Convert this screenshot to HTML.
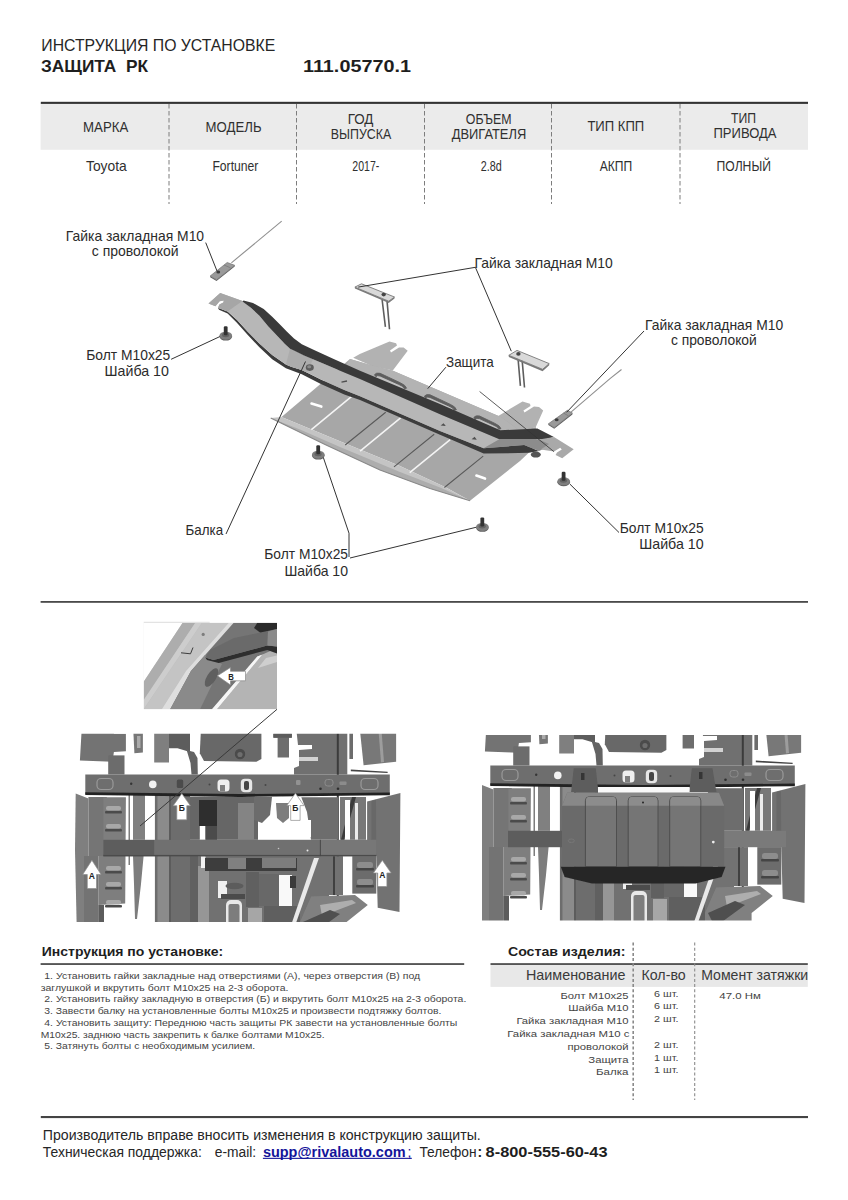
<!DOCTYPE html>
<html lang="ru">
<head>
<meta charset="utf-8">
<title>Инструкция по установке — Защита РК 111.05770.1</title>
<style>
html,body{margin:0;padding:0;background:#fff;}
body{width:848px;height:1200px;overflow:hidden;position:relative;font-family:"Liberation Sans",sans-serif;}
svg{position:absolute;left:0;top:0;display:block;}
text{font-family:"Liberation Sans",sans-serif;}
.b{font-weight:bold;}
.m{text-anchor:middle;}
.e{text-anchor:end;}
.h{font-size:13.5px;fill:#333;}
.lbl{font-size:14.5px;fill:#2b2b2b;}
.ld{stroke:#333;stroke-width:1;fill:none;}
.dash{stroke:#666;stroke-width:1;stroke-dasharray:4 3;fill:none;}
</style>
</head>
<body>
<svg width="848" height="1200" viewBox="0 0 848 1200" fill="#2a2a2a">
<!--HEADER_START-->
<g id="header">
<text x="41.3" y="51" font-size="16.2" fill="#262626" textLength="234" lengthAdjust="spacingAndGlyphs">ИНСТРУКЦИЯ ПО УСТАНОВКЕ</text>
<text x="41" y="71.5" font-size="16.2" class="b" fill="#1e1e1e" textLength="107" lengthAdjust="spacingAndGlyphs" xml:space="preserve">ЗАЩИТА  РК</text>
<text x="303" y="71.5" font-size="16.2" class="b" fill="#1e1e1e" textLength="108" lengthAdjust="spacingAndGlyphs">111.05770.1</text>
</g>
<g id="table">
<rect x="40.6" y="103" width="767.4" height="46.8" fill="#ebebeb"/>
<rect x="40.8" y="101.8" width="767.2" height="2.1" fill="#333"/>
<path d="M169 104V204M296.5 104V204M424.5 104V204M551.5 104V204M680 104V204" stroke="#7d7d7d" stroke-width="1" stroke-dasharray="4.5 2.5" fill="none"/>
<g font-size="14.5" fill="#303030">
<text x="83" y="131.5" textLength="45.3" lengthAdjust="spacingAndGlyphs">МАРКА</text>
<text x="205.6" y="131.5" textLength="56" lengthAdjust="spacingAndGlyphs">МОДЕЛЬ</text>
<text x="347.7" y="123.6" textLength="25.7" lengthAdjust="spacingAndGlyphs">ГОД</text>
<text x="330.8" y="138.8" textLength="60.4" lengthAdjust="spacingAndGlyphs">ВЫПУСКА</text>
<text x="465.8" y="123.6" textLength="45.7" lengthAdjust="spacingAndGlyphs">ОБЪЕМ</text>
<text x="451.7" y="138.8" textLength="74.5" lengthAdjust="spacingAndGlyphs">ДВИГАТЕЛЯ</text>
<text x="587.4" y="131.2" textLength="56.8" lengthAdjust="spacingAndGlyphs">ТИП КПП</text>
<text x="731" y="123.2" textLength="25" lengthAdjust="spacingAndGlyphs">ТИП</text>
<text x="713.5" y="138.4" textLength="63" lengthAdjust="spacingAndGlyphs">ПРИВОДА</text>
<text x="86" y="171" textLength="40.8" lengthAdjust="spacingAndGlyphs">Toyota</text>
<text x="212.4" y="171" textLength="46" lengthAdjust="spacingAndGlyphs">Fortuner</text>
<text x="352.3" y="171" textLength="27" lengthAdjust="spacingAndGlyphs">2017-</text>
<text x="480.8" y="171" textLength="21" lengthAdjust="spacingAndGlyphs">2.8d</text>
<text x="599.7" y="171" textLength="32.5" lengthAdjust="spacingAndGlyphs">АКПП</text>
<text x="716.6" y="171" textLength="54.3" lengthAdjust="spacingAndGlyphs">ПОЛНЫЙ</text>
</g>
</g>
<!--HEADER_END-->
<!--DIAGRAM_START-->
<g id="diagram">
<!-- protection plate -->
<g id="plate">
<!-- tabs -->
<path d="M353.2 357.8 L359.8 354 L389.5 341.6 L396.1 343.3 L397 345.5 L390 350.5 L391 352.6 L399 347.6 L403.6 347.4 L407.7 350.7 L392.8 370.5 L372 366Z" fill="#b2b2b2"/>
<path d="M497.8 416.2 L522.5 401.4 L530 403.8 L530.5 406 L523.4 410.6 L524.5 412.4 L534 406.6 L539 407.1 L543.2 410.4 L535.8 427 L520 432Z" fill="#b2b2b2"/>
<!-- main body incl. band above beam -->
<path d="M350 359 L372 365.5 L393 370.8 L501.5 417.2 L520 431 L535.8 427 L537 446 L529 452.5 L520 461 L470 500.7 L446 487.5 L400 465.9 L340 441.2 L281.5 417.1Z" fill="#a7a7a7"/>
<path d="M350 359 L372 365.5 L393 370.8 L501.5 417.2 L520 431 L510 436 L346 366Z" fill="#b3b3b3"/>
<!-- front lip -->
<path d="M270.7 418 L281.5 417.1 L340 441.2 L400 465.9 L446 487.5 L470 500.7 L430 488.5 L380 470 L325 444.5Z" fill="#c4c4c4"/>
<path d="M270.7 418 L300 429.5 L340 447 L400 472 L440 487.5 L470 500.7 L430 488.5 L380 470 L325 444.5Z" fill="#adadad"/>
<path d="M270.7 418 L325 444.5 L380 470 L430 488.5 L470 500.7" stroke="#8a8a8a" stroke-width="1.2" fill="none"/>
<!-- ribs -->
<path d="M351.4 396.6 L311.4 429.6 M400.6 417.8 L360.1 451.2 M450.2 439.6 L409.7 472.6" stroke="#f4f4f4" stroke-width="1.6" fill="none"/>
<path d="M385.7 412.3 L345.2 445 M434.2 434.3 L394 466.9 M483.2 456.1 L444.4 487.5" stroke="#5a5a5a" stroke-width="1.1" fill="none"/>
<!-- holes -->
<path d="M311.5 403.6 L321.3 406.6" stroke="#fff" stroke-width="2.6" stroke-linecap="round"/>
<path d="M476.4 475.6 L485 478.6" stroke="#fff" stroke-width="2.6" stroke-linecap="round"/>
<!-- rib ends above beam -->
<path d="M375.5 375.3 L405.5 387.2 L405.5 391.2 L375.5 379.3Z" fill="#c2c2c2"/>
<path d="M374.5 374.7 Q376.1 372.4 380.1 373.3 L400.5 382.9 Q405.7 385.2 406.5 388.2 L404.3 388.7 Q403.3 386.0 398.5 384.3 L380.1 375.9 Q377.1 375.0 375.9 376.7Z" fill="#5e5e5e" stroke="#5e5e5e" stroke-width=".9"/>
<path d="M425.4 396.8 L455.4 408.7 L455.4 412.7 L425.4 400.8Z" fill="#c2c2c2"/>
<path d="M424.4 396.2 Q426.0 393.9 430.0 394.8 L450.4 404.4 Q455.6 406.7 456.4 409.7 L454.2 410.2 Q453.2 407.5 448.4 405.8 L430.0 397.4 Q427.0 396.5 425.8 398.2Z" fill="#5e5e5e" stroke="#5e5e5e" stroke-width=".9"/>
<path d="M474.9 418.0 L499.9 427.7 L499.9 431.7 L474.9 422.0Z" fill="#c2c2c2"/>
<path d="M473.9 417.4 Q475.5 415.1 479.5 416.0 L494.9 423.4 Q500.1 425.7 500.9 428.7 L498.7 429.2 Q497.7 426.5 492.9 424.8 L479.5 418.6 Q476.5 417.7 475.3 419.4Z" fill="#5e5e5e" stroke="#5e5e5e" stroke-width=".9"/>
</g>
<!-- beam -->
<g id="beam">
<ellipse cx="535.8" cy="454.6" rx="5" ry="3" fill="#555"/>
<path d="M218.0 307.8 L227.6 311.5 L237.1 320.0 L247.8 331.7 L259.4 343.4 L272.2 355.0 L285.9 364.6 L291.2 366.7 L301.8 369.9 L320.9 379.4 L344.3 390.1 L360.0 396.3 L440.0 431.0 L483.7 448.2 L524.2 445.1 L539.0 451.0 L529.0 452.8 L483.7 453.6 L440.0 434.8 L360.0 400.0 L344.3 394.5 L320.9 383.9 L301.8 374.3 L285.9 368.2 L272.2 359.3 L259.4 347.3 L247.8 335.1 L237.1 322.9 L227.6 313.4 L219.0 309.8Z" fill="#3c3c3c"/>
<path d="M208.5 303.6 L220.2 293.0 L242.5 300.9 L250.9 307.8 L259.4 315.8 L267.9 325.9 L276.4 334.9 L284.9 343.9 L290.0 348.7 L294.4 350.8 L304.0 355.6 L323.1 363.5 L344.3 372.6 L360.0 379.0 L440.0 414.3 L499.4 439.2 L483.7 448.2 L440.0 431.0 L360.0 396.3 L344.3 390.1 L320.9 379.4 L301.8 369.9 L291.2 366.7 L285.9 364.6 L272.2 355.0 L259.4 343.4 L247.8 331.7 L237.1 320.0 L227.6 311.5 L218.0 307.8 L219.4 304.6 L223.3 302.5 L223.9 300.4 L219.6 301.2 L215.4 306.2Z" fill="#b7b7b7"/>
<path d="M208.5 303.6 L220.2 293.0 L242.5 300.9 L236.0 305.5 L227.6 311.5 L218.0 307.8 L219.4 304.6 L223.3 302.5 L223.9 300.4 L219.6 301.2 L215.4 306.2Z" fill="#a6a6a6"/>
<path d="M290 348.7 L294.4 350.8 L304 355.6 L313 359.3 L307 372.5 L301.8 369.9 L291.2 366.7 L285.9 364.6Z" fill="#acacac"/>
<path d="M243.5 300.4 L253.0 303.0 L263.7 308.9 L272.2 316.8 L280.7 325.3 L287.0 331.7 L294.0 338.5 L301.8 344.2 L314.6 350.3 L333.7 359.0 L360.0 370.8 L440.0 404.0 L500.3 430.3 L537.4 428.6 L553.9 436.9 L545.7 439.2 L499.4 439.2 L440.0 414.3 L360.0 379.0 L344.3 372.6 L323.1 363.5 L304.0 355.6 L294.4 350.8 L290.0 348.7 L284.9 343.9 L276.4 334.9 L267.9 325.9 L259.4 315.8 L250.9 307.8 L242.5 301.6Z" fill="#3a3a3a"/>
<path d="M499.4 439.2 L545.7 439.2 L556 443.5 L539 451 L524.2 445.1 L483.7 448.2Z" fill="#8c8c8c"/>
<path d="M539 439.4 L554 436.9 L573.7 449.2 L562.2 458.3 L555.6 455 L557 452.6 L561.8 449.6 L560.2 447.8 L554 451.6 L540.7 449.6 L549 444Z" fill="#a9a9a9"/>
<ellipse cx="309.8" cy="367.6" rx="4" ry="3.3" fill="#5d5d5d"/><ellipse cx="309.2" cy="366.8" rx="2" ry="1.5" fill="#8a8a8a"/>
<path d="M341.5 382.2 l5.5 -1.2" stroke="#505050" stroke-width="1.3" fill="none"/>
<path d="M440.6 425.6 l3 -2.4 l2.2 2.9Z M471.6 439.2 l3 -2.4 l2.2 2.9Z" fill="#4e4e4e"/>
</g>

<!-- defs-like reusable bolt drawn inline -->
<g id="bolts">
<g transform="translate(225.8,335.4)"><ellipse cx="0" cy="1.2" rx="6.3" ry="4" fill="#5e5e5e"/><ellipse cx="0" cy="0.3" rx="6.3" ry="4" fill="#7e7e7e"/><ellipse cx="-0.2" cy="-0.4" rx="3.6" ry="2.2" fill="#636363"/><rect x="-2" y="-9.2" width="3.8" height="9" rx="1.2" fill="#333"/></g>
<g transform="translate(318.3,454.4)"><ellipse cx="0" cy="1.2" rx="6.3" ry="4" fill="#5e5e5e"/><ellipse cx="0" cy="0.3" rx="6.3" ry="4" fill="#7e7e7e"/><ellipse cx="-0.2" cy="-0.4" rx="3.6" ry="2.2" fill="#636363"/><rect x="-2" y="-9.2" width="3.8" height="9" rx="1.2" fill="#333"/></g>
<g transform="translate(482.4,526.6)"><ellipse cx="0" cy="1.2" rx="6.3" ry="4" fill="#5e5e5e"/><ellipse cx="0" cy="0.3" rx="6.3" ry="4" fill="#7e7e7e"/><ellipse cx="-0.2" cy="-0.4" rx="3.6" ry="2.2" fill="#636363"/><rect x="-2" y="-9.2" width="3.8" height="9" rx="1.2" fill="#333"/></g>
<g transform="translate(563.7,481.0)"><ellipse cx="0" cy="1.2" rx="6.3" ry="4" fill="#5e5e5e"/><ellipse cx="0" cy="0.3" rx="6.3" ry="4" fill="#7e7e7e"/><ellipse cx="-0.2" cy="-0.4" rx="3.6" ry="2.2" fill="#636363"/><rect x="-2" y="-9.2" width="3.8" height="9" rx="1.2" fill="#333"/></g>
</g>
<!-- nuts -->
<g id="nuts">
<!-- left nut with wire -->
<path d="M281.7 221.2 L231.4 262.8" stroke="#8f8f8f" stroke-width="1.1"/>
<path d="M210.2 277.2 L216.5 280.9 L234.7 266.5 L234.7 265.3 L216.5 279.7 L210.2 276Z" fill="#5f5f5f"/>
<path d="M210.2 276 L227.2 262.5 L234.7 265.3 L216.5 279.7Z" fill="#9a9a9a" stroke="#727272" stroke-width=".7"/>
<path d="M224 265 L230.5 267.8" stroke="#7a7a7a" stroke-width=".8"/>
<ellipse cx="218.3" cy="272" rx="1.9" ry="1.5" fill="#3c3c3c"/>
<!-- center-left nut -->
<path d="M382.1 299.5 L385.4 326.8 M387 300.4 L389.5 329.2" stroke="#5e5e5e" stroke-width="1.6" fill="none"/>
<path d="M354.9 287.1 L388.7 301.2 L394.5 297 L394.5 298.6 L388.7 303 L354.9 288.6Z" fill="#7a7a7a"/>
<path d="M354.9 287.1 L361.5 283.8 L394.5 297 L388.7 301.2Z" fill="#d9d9d9" stroke="#777" stroke-width=".9"/>
<ellipse cx="383.7" cy="294.6" rx="2.2" ry="1.8" fill="#454545"/>
<!-- center-right nut -->
<path d="M517.9 357 L520.4 385.9 M522 358.6 L524.5 387.5" stroke="#5e5e5e" stroke-width="1.6" fill="none"/>
<path d="M508.8 355.3 L542.6 369.3 L549.2 363.6 L549.2 365.2 L542.6 371.2 L508.8 356.9Z" fill="#7a7a7a"/>
<path d="M508.8 355.3 L517 350.4 L549.2 363.6 L542.6 369.3Z" fill="#d9d9d9" stroke="#777" stroke-width=".9"/>
<ellipse cx="518.4" cy="353.9" rx="2.2" ry="1.8" fill="#454545"/>
<!-- right nut with wire -->
<path d="M570.7 412.3 L610 378.6 L621.5 369.5" stroke="#8f8f8f" stroke-width="1.1" fill="none"/>
<path d="M548.4 425 L554.2 428.8 L572.4 414.4 L572.4 413.1 L554.2 427.5 L548.4 423.8Z" fill="#5f5f5f"/>
<path d="M548.4 423.8 L567.4 410.3 L572.4 413.1 L554.2 427.5Z" fill="#9a9a9a" stroke="#727272" stroke-width=".7"/>
<path d="M563.5 413 L568.6 416" stroke="#7a7a7a" stroke-width=".8"/>
<ellipse cx="556.7" cy="419.7" rx="1.9" ry="1.5" fill="#3c3c3c"/>
</g>
<!-- leaders -->
<g id="leaders" class="ld">
<path d="M205.7 242.6 L217 271"/>
<path d="M171.1 359.3 L219.8 336.6"/>
<path d="M475.4 267.3 L358.2 287.1"/>
<path d="M475.4 267.3 L511.3 351.2"/>
<path d="M445.9 367.2 L427.7 388.7"/>
<path d="M644 331 L566.6 412.3"/>
<path d="M479.6 391.5 L554 451.7" stroke-width=".8"/>
<path d="M305.5 361.5 L226 534"/>
<path d="M323.3 457.4 L349 533.2 L349 557"/>
<path d="M350 558 L476 527.3"/>
<path d="M569.8 484 L619 532.5"/>
</g>
<!-- labels -->
<g id="labels">
<text class="lbl" x="65.8" y="240.9" textLength="138.3" lengthAdjust="spacingAndGlyphs">Гайка закладная М10</text>
<text class="lbl" x="91.8" y="255.6" textLength="86.8" lengthAdjust="spacingAndGlyphs">с проволокой</text>
<text class="lbl" x="86.2" y="360.1" textLength="84.1" lengthAdjust="spacingAndGlyphs">Болт М10х25</text>
<text class="lbl" x="104.6" y="375.7" textLength="64.3" lengthAdjust="spacingAndGlyphs">Шайба 10</text>
<text class="lbl" x="474.5" y="267.9" textLength="138.3" lengthAdjust="spacingAndGlyphs">Гайка закладная М10</text>
<text class="lbl" x="645.1" y="330.3" textLength="138.1" lengthAdjust="spacingAndGlyphs">Гайка закладная М10</text>
<text class="lbl" x="670.9" y="344.9" textLength="85.9" lengthAdjust="spacingAndGlyphs">с проволокой</text>
<text class="lbl" x="446" y="367.2" textLength="47.7" lengthAdjust="spacingAndGlyphs">Защита</text>
<text class="lbl" x="185.6" y="534.6" textLength="37.5" lengthAdjust="spacingAndGlyphs">Балка</text>
<text class="lbl" x="264.3" y="559" textLength="83.7" lengthAdjust="spacingAndGlyphs">Болт М10х25</text>
<text class="lbl" x="284.4" y="575.6" textLength="63.6" lengthAdjust="spacingAndGlyphs">Шайба 10</text>
<text class="lbl" x="619.7" y="533" textLength="84" lengthAdjust="spacingAndGlyphs">Болт М10х25</text>
<text class="lbl" x="639.2" y="549.1" textLength="64.4" lengthAdjust="spacingAndGlyphs">Шайба 10</text>
</g>
</g>
<!--DIAGRAM_END-->
<!--LOWER_START-->
<g id="lower">
<defs><filter id="bl" x="-2%" y="-2%" width="104%" height="104%"><feGaussianBlur stdDeviation="0.55"/></filter><filter id="bd" x="-2%" y="-2%" width="104%" height="104%"><feGaussianBlur stdDeviation="0.55"/><feComponentTransfer><feFuncR type="gamma" exponent="1.16"/><feFuncG type="gamma" exponent="1.16"/><feFuncB type="gamma" exponent="1.16"/></feComponentTransfer></filter>
<clipPath id="cL"><rect x="74" y="733.8" width="328" height="188.2"/></clipPath>
<clipPath id="cR"><rect x="482" y="735" width="326" height="185.5"/></clipPath>
<clipPath id="cI"><rect x="143.7" y="622.7" width="133.3" height="86.6"/></clipPath>
<g id="under"><path d="M82.0 724.0 L113.9 724.0 L113.9 733.8 L125.9 733.8 L125.9 751.2 L113.9 752.0 L112.5 761.8 L79.9 760.4Z" fill="#828282"/>
<rect x="108.2" y="755.4" width="16.3" height="19.1" fill="#7a7a7a"/>
<path d="M133.0 724.0 L142.9 724.0 L142.9 752.6 L134.4 753.3Z" fill="#858585"/>
<rect x="137.0" y="736.0" width="3.5" height="12.0" fill="#b5b5b5"/>
<rect x="154.2" y="724.0" width="14.8" height="38.5" fill="#8c8c8c"/>
<path d="M169.0 724.0 L190.0 724.0 L190.0 751.9 L177.5 748.3 L169.0 748.3Z" fill="#6c6c6c"/>
<path d="M186.0 748.0 L190.0 751.0 L194.0 752.0 L197.5 758.0 L197.8 774.5 L191.5 774.5 L190.5 763.0Z" fill="#727272"/>
<path d="M201.2 724.0 L261.4 724.0 L261.4 759.0 L256.4 761.8 L204.0 761.0 L199.8 753.3Z" fill="#777777"/>
<circle cx="240" cy="754" r="5.2" fill="#5a5a5a"/><circle cx="240" cy="754.5" r="2.6" fill="#7d7d7d"/>
<path d="M273.4 724.0 L291.8 724.0 L291.8 737.7 L289.0 737.7 L289.0 757.5 L277.6 757.5 L277.6 737.7 L273.4 737.7Z" fill="#7c7c7c"/>
<rect x="273.4" y="733.8" width="18.4" height="3.9" fill="#6a6a6a"/>
<path d="M295.7 724.0 L347.3 724.0 L347.3 774.5 L294.0 774.5 L294.0 768.0 L299.0 766.0 L299.0 750.0 L312.0 749.0 L312.0 745.0 L298.0 745.0Z" fill="#7e7e7e"/>
<rect x="299.0" y="757.0" width="19.0" height="4.0" fill="#d8d8d8"/>
<rect x="336.8" y="724.0" width="2.0" height="216.0" fill="#4a4a4a"/>
<rect x="349.4" y="724.0" width="3.6" height="35.0" fill="#7a7a7a"/>
<path d="M359.3 724.0 L396.1 724.0 L396.1 761.8 L363.6 765.3Z" fill="#868686"/>
<path d="M378.0 724.0 L381.0 724.0 L384.0 762.0 L381.0 762.5Z" fill="#a8a8a8"/>
<path d="M350.8 769.6 L387.6 771.7 L387.6 773.0 L350.8 771.2Z" fill="#555"/>
<path d="M75.7 793.6 L88.4 798.6 L88.4 940.0 L77.0 940.0 L75.0 850.0Z" fill="#8c8c8c"/>
<rect x="88.4" y="797.0" width="18.4" height="59.0" fill="#838383"/>
<rect x="84.0" y="856.0" width="14.3" height="84.0" fill="#828282"/>
<path d="M103.3 797.2 L125.9 797.2 L125.2 903.5 L98.3 905.0 L98.3 856.0 L103.3 856.0Z" fill="#8b8b8b"/>
<rect x="105.0" y="811.0" width="17.0" height="2.5" fill="#5c5c5c" rx="1"/>
<rect x="106.0" y="806.0" width="15.0" height="4.5" fill="#b2b2b2" rx="2"/>
<rect x="105.0" y="829.0" width="17.0" height="2.5" fill="#5c5c5c" rx="1"/>
<rect x="106.0" y="824.0" width="15.0" height="4.5" fill="#b2b2b2" rx="2"/>
<rect x="105.0" y="871.0" width="17.0" height="2.5" fill="#5c5c5c" rx="1"/>
<rect x="106.0" y="866.0" width="15.0" height="4.5" fill="#b2b2b2" rx="2"/>
<rect x="105.0" y="887.0" width="17.0" height="2.5" fill="#5c5c5c" rx="1"/>
<rect x="106.0" y="882.0" width="15.0" height="4.5" fill="#b2b2b2" rx="2"/>
<rect x="105.0" y="905.0" width="17.0" height="2.5" fill="#5c5c5c" rx="1"/>
<rect x="106.0" y="900.0" width="15.0" height="4.5" fill="#b2b2b2" rx="2"/>
<rect x="98.3" y="905.0" width="5.7" height="35.0" fill="#6a6a6a"/>
<rect x="128.5" y="795.0" width="1.5" height="70.0" fill="#8a8a8a"/>
<rect x="133.0" y="795.0" width="12.0" height="44.8" fill="#8e8e8e"/>
<path d="M133.0 856.0 L143.6 856.0 L141.0 884.0 L137.0 919.0 L135.0 919.0 L134.0 884.0Z" fill="#8a8a8a"/>
<rect x="154.9" y="795.0" width="35.1" height="145.0" fill="#7c7c7c"/>
<rect x="157.5" y="795.0" width="11.5" height="145.0" fill="#989898"/>
<rect x="169.0" y="795.0" width="2.0" height="145.0" fill="#6a6a6a"/>
<rect x="190.0" y="797.0" width="68.0" height="42.8" fill="#767676"/>
<rect x="199.0" y="800.0" width="18.0" height="26.0" fill="#3e3e3e"/>
<rect x="199.8" y="826.0" width="5.7" height="13.8" fill="#ffffff"/>
<rect x="205.5" y="826.0" width="11.5" height="13.8" fill="#5c5c5c"/>
<rect x="238.0" y="803.0" width="16.0" height="37.0" fill="#929292"/>
<path d="M254.0 797.0 L272.0 797.0 L270.0 815.0 L262.0 823.0 L254.0 820.0Z" fill="#7a7a7a"/>
<path d="M276.0 803.0 L289.0 803.0 L289.0 818.0 L283.0 823.0 L277.0 818.0Z" fill="#8a8a8a"/>
<path d="M301.3 797.2 L338.1 797.2 L338.1 839.8 L311.0 839.8 L307.0 812.0Z" fill="#7b7b7b"/>
<rect x="340.0" y="797.0" width="26.0" height="42.8" fill="#868686"/>
<path d="M352.0 797.0 L356.0 797.0 L344.0 839.8 L341.0 839.8Z" fill="#4a4a4a"/>
<rect x="345.0" y="800.0" width="5.0" height="39.8" fill="#ffffff"/>
<rect x="355.0" y="803.0" width="3.0" height="36.8" fill="#efefef"/>
<path d="M367.1 801.4 L400.4 792.9 L399.5 912.0 L377.7 907.7 L376.3 856.0 L367.1 856.0Z" fill="#818181"/>
<path d="M371.4 801.0 L376.0 799.8 L376.3 856.0 L371.4 856.0Z" fill="#777"/>
<rect x="352.3" y="856.1" width="24.0" height="37.5" fill="#7a7a7a"/>
<rect x="356.0" y="868.0" width="18.0" height="2.5" fill="#555" rx="1"/>
<rect x="357.0" y="862.0" width="16.0" height="6.0" fill="#9a9a9a" rx="2.5"/>
<rect x="356.0" y="885.0" width="18.0" height="2.5" fill="#555" rx="1"/>
<rect x="357.0" y="879.0" width="16.0" height="6.0" fill="#9a9a9a" rx="2.5"/>
<rect x="329.0" y="856.1" width="14.0" height="38.9" fill="#808080"/>
<rect x="333.0" y="856.1" width="2.0" height="38.9" fill="#4f4f4f"/>
<rect x="190.0" y="856.1" width="110.0" height="83.9" fill="#7f7f7f"/>
<rect x="190.0" y="856.1" width="8.0" height="83.9" fill="#6f6f6f"/>
<rect x="198.0" y="866.0" width="11.0" height="74.0" fill="#a2a2a2"/>
<rect x="201.0" y="856.1" width="4.5" height="11.9" fill="#f4f4f4"/>
<rect x="205.0" y="858.0" width="92.0" height="13.0" fill="#4e4e4e"/>
<rect x="228.0" y="858.0" width="18.0" height="11.0" fill="#8e8e8e"/>
<rect x="262.0" y="858.0" width="34.0" height="10.0" fill="#8a8a8a"/>
<rect x="218.0" y="881.0" width="9.0" height="17.0" fill="#f2f2f2"/>
<ellipse cx="234.5" cy="886" rx="9" ry="3.2" fill="#6a6a6a"/>
<rect x="221.0" y="894.0" width="24.0" height="5.0" fill="#5a5a5a"/>
<rect x="226.0" y="900.0" width="16.0" height="44.0" fill="#ececec" rx="5"/>
<rect x="228.5" y="904.0" width="11.0" height="40.0" fill="#8a8a8a" rx="2"/>
<rect x="246.0" y="872.0" width="13.0" height="35.0" fill="#6f6f6f"/>
<rect x="259.0" y="874.0" width="20.0" height="32.0" fill="#777"/>
<rect x="279.0" y="875.0" width="13.0" height="31.0" fill="#fafafa"/>
<rect x="248.0" y="908.0" width="14.0" height="32.0" fill="#b0b0b0"/>
<rect x="264.0" y="906.0" width="36.0" height="34.0" fill="#6e6e6e"/>
<rect x="300.0" y="856.1" width="29.0" height="83.9" fill="#808080"/>
<rect x="290.0" y="876.0" width="6.0" height="12.0" fill="#4a4a4a"/>
<rect x="290.0" y="820.0" width="21.0" height="17.0" fill="#ffffff"/>
<path d="M314.0 858.0 L319.0 858.0 L290.0 940.0 L286.0 940.0Z" fill="#ececec"/>
<path d="M311.2 896.4 L355.0 895.0 L367.8 905.0 L346.6 922.0 L346.6 940.0 L300.0 940.0 L300.0 922.0Z" fill="#8e8e8e"/>
<path d="M320.0 905.0 L352.0 900.0 L356.0 903.0 L322.0 916.0Z" fill="#b8b8b8"/>
<path d="M303.0 922.0 L330.0 910.0 L340.0 914.0 L310.0 936.0Z" fill="#5e5e5e"/>
<path d="M85.3 774.5 L389.8 774.5 L389.8 794.6 L240.0 796.2 L85.3 794.3Z" fill="#7d7d7d"/>
<path d="M85.3 792.3 L240.0 794.0 L389.8 792.6 L389.8 795.2 L240.0 797.0 L85.3 795.0Z" fill="#333"/>
<rect x="97" y="778.5" width="16" height="11" rx="4" fill="none" stroke="#a5a5a5" stroke-width="1.2"/>
<rect x="361" y="778.5" width="17" height="11" rx="4" fill="none" stroke="#a5a5a5" stroke-width="1.2"/>
<circle cx="152.8" cy="784.4" r="3.8" fill="#f5f5f5"/>
<circle cx="131.2" cy="783.7" r="1.2" fill="#444"/>
<rect x="176.8" y="779.5" width="6.4" height="8.5" fill="#5a5a5a" rx="1.5"/>
<rect x="217.5" y="779.5" width="12" height="12" rx="3.5" fill="#f2f2f2"/><rect x="220" y="785" width="5" height="6.5" fill="#8c8c8c"/>
<rect x="240.8" y="778.8" width="11.4" height="13.5" rx="4" fill="#e9e9e9"/><rect x="244" y="781" width="5" height="9" rx="2" fill="#555"/>
<circle cx="209.5" cy="784.6" r="1" fill="#555"/><circle cx="265.5" cy="785" r="1" fill="#555"/><circle cx="320.5" cy="788.8" r="1.3" fill="#3e3e3e"/><circle cx="338" cy="788.8" r="1.3" fill="#3e3e3e"/>
<rect x="296" y="780" width="4.5" height="5" rx="1" fill="#9e9e9e"/><rect x="325" y="779.5" width="8" height="6.5" rx="2.5" fill="none" stroke="#999" stroke-width="1"/><rect x="339.5" y="781.5" width="7" height="3.6" rx="1" fill="#999"/></g></defs>
<rect x="40.6" y="601" width="767.4" height="1.8" fill="#4a4a4a"/>
<g clip-path="url(#cI)"><g filter="url(#bl)"><rect x="143.7" y="622.7" width="133.3" height="86.6" fill="#bcbcbc"/>
<path d="M143.7 622.7 L182.7 622.7 L143.7 681.7Z" fill="#ffffff"/>
<path d="M182.7 622.7 L195.3 622.7 L143.7 700.0 L143.7 681.7Z" fill="#adadad"/>
<path d="M195.3 622.7 L202.0 622.7 L143.7 709.3 L143.7 700.0Z" fill="#cdcdcd"/>
<path d="M202.0 622.7 L228.8 622.7 L186.0 671.0 L161.8 709.3 L143.7 709.3Z" fill="#c4c4c4"/>
<path d="M228.8 622.7 L233.8 622.7 L191.0 671.0 L170.2 709.3 L161.8 709.3 L186.0 671.0Z" fill="#dedede"/>
<path d="M233.8 622.7 L257.3 622.7 L277.0 640.0 L277.0 650.0 L257.3 656.5 L212.0 709.3 L170.2 709.3 L191.0 671.0Z" fill="#757575"/>
<path d="M191.0 671.0 L205.0 655.0 L222.0 664.0 L200.0 709.3 L170.2 709.3Z" fill="#8a8a8a"/>
<ellipse cx="211.5" cy="677.5" rx="4.5" ry="10.5" transform="rotate(32 211.5 677.5)" fill="#5e5e5e"/>
<path d="M257.3 656.5 L262.5 654.5 L217.0 709.3 L212.0 709.3Z" fill="#f6f6f6"/>
<path d="M262.5 654.5 L277.0 648.0 L277.0 709.3 L217.0 709.3Z" fill="#b4b4b4"/>
<path d="M266.0 658.0 L277.0 655.5 L277.0 662.0 L258.0 668.0Z" fill="#cfcfcf"/>
<path d="M257.3 622.7 L270.7 622.7 L277.0 622.7 L277.0 630.0 L262.0 634.0 L254.0 628.0Z" fill="#2c2c2c"/>
<path d="M205.3 657.4 L213.7 659.9 L267.3 645.6 L277.0 646.5 L277.0 653.5 L267.3 650.0 L218.7 663.0 L207.0 660.0Z" fill="#2e2e2e"/>
<path d="M277.0 628.9 L277.0 646.5 L267.3 645.6 L213.7 659.9 L205.3 657.4 L210.4 649.8 L233.8 638.1Z" fill="#6b6b6b"/>
<path d="M268.0 631.5 L277.0 628.9 L277.0 646.5 L267.3 645.6Z" fill="#8a8a8a"/>
<circle cx="203.2" cy="634.4" r="1.6" fill="#7d7d7d"/>
<path d="M181 652.8 L190.5 653.8 L193 647.5" stroke="#3c3c3c" stroke-width="1" fill="none"/>
<path d="M217.4 675.8 L230.5 667.4 L230.5 671.3 L245.5 671.3 L245.5 680.8 L230.5 680.8 L230.5 685Z" fill="#fff" stroke="#8a8a8a" stroke-width=".7"/></g></g>
<rect x="143.7" y="621.8" width="66" height="1" fill="#ddd"/>
<text x="228.3" y="679.6" font-size="9.6" class="b" fill="#222" textLength="5.6" lengthAdjust="spacingAndGlyphs">В</text>
<g clip-path="url(#cL)"><g filter="url(#bd)"><use href="#under"/><g><rect x="103.3" y="839.8" width="51.6" height="16.3" fill="#6d6d6d"/><rect x="154.9" y="839.8" width="165.5" height="16.3" fill="#7e7e7e"/><rect x="320.4" y="839.8" width="55.9" height="16.3" fill="#858585"/><rect x="103.3" y="854.9" width="273.0" height="1.5" fill="#5c5c5c"/><rect x="319.9" y="839.8" width="1.0" height="16.3" fill="#555"/><circle cx="307.5" cy="850.5" r="1" fill="#eee"/><circle cx="278.5" cy="848.5" r=".8" fill="#ccc"/></g></g></g>
<path d="M277 709.3 L140 826" stroke="#3a3a3a" stroke-width="1" fill="none"/>
<path d="M181.8 793.6 L190.4 805.7 L186.8 805.7 L186.8 819.8 L176.8 819.8 L176.8 805.7 L173.2 805.7Z" fill="#fff" stroke="#8c8c8c" stroke-width=".7"/><text x="181.8" y="811.3" font-size="8.5" class="b m" fill="#222">Б</text>
<path d="M295.4 793.2 L304.0 805.6 L300.1 805.6 L300.1 820.4 L290.7 820.4 L290.7 805.6 L286.8 805.6Z" fill="#fff" stroke="#8c8c8c" stroke-width=".7"/><text x="295.4" y="811.3" font-size="8.5" class="b m" fill="#222">Б</text>
<path d="M91.9 860.3 L101.1 874.5 L96.5 874.5 L96.5 888.6 L87.3 888.6 L87.3 874.5 L82.7 874.5Z" fill="#fff" stroke="#8c8c8c" stroke-width=".7"/><text x="91.9" y="879.3" font-size="8.5" class="b m" fill="#222">А</text>
<path d="M382.3 860.3 L391.2 873.0 L386.9 873.0 L386.9 886.5 L377.7 886.5 L377.7 873.0 L373.4 873.0Z" fill="#fff" stroke="#8c8c8c" stroke-width=".7"/><text x="382.3" y="877.5" font-size="8.5" class="b m" fill="#222">А</text>
<g clip-path="url(#cR)"><g filter="url(#bd)"><use href="#under" transform="translate(405,-9)"/><rect x="508.0" y="830.8" width="54.0" height="16.4" fill="#6c6c6c"/>
<rect x="724.0" y="830.8" width="62.0" height="16.4" fill="#888888"/>
<path d="M573.7 768.2 L595.8 768.2 L598.4 792.0 L571.1 792.0Z" fill="#6c6c6c"/>
<path d="M691.8 768.2 L712.5 768.2 L716.4 792.0 L689.2 792.0Z" fill="#6c6c6c"/>
<rect x="581.0" y="773.0" width="3.5" height="7.0" fill="#444"/>
<rect x="699.0" y="772.0" width="3.5" height="7.0" fill="#444"/>
<rect x="598.0" y="787.0" width="91.5" height="6.0" fill="#fafafa"/>
<path d="M567.2 792.8 L719.0 792.8 L724.2 805.8 L724.2 866.7 L562.0 866.7 L562.0 805.8Z" fill="#797979"/>
<path d="M567.2 792.8 L719.0 792.8 L724.2 805.8 L562.0 805.8Z" fill="#959595"/>
<path d="M585.4 866.7 L585.4 800.7 Q585.4 796.7 589.4 796.7 L612.5 796.7 Q616.5 796.7 616.5 800.7 L616.5 866.7Z" fill="#838383" stroke="#5e5e5e" stroke-width="1"/>
<path d="M585.9 805.8 L585.9 800.7 Q585.9 796.7 589.4 796.7 L612.5 796.7 Q616.0 796.7 616.0 800.7 L616.0 805.8Z" fill="#999999"/>
<path d="M628.2 866.7 L628.2 800.7 Q628.2 796.7 632.2 796.7 L654.0 796.7 Q658.0 796.7 658.0 800.7 L658.0 866.7Z" fill="#838383" stroke="#5e5e5e" stroke-width="1"/>
<path d="M628.7 805.8 L628.7 800.7 Q628.7 796.7 632.2 796.7 L654.0 796.7 Q657.5 796.7 657.5 800.7 L657.5 805.8Z" fill="#999999"/>
<path d="M669.7 866.7 L669.7 800.7 Q669.7 796.7 673.7 796.7 L696.8 796.7 Q700.8 796.7 700.8 800.7 L700.8 866.7Z" fill="#838383" stroke="#5e5e5e" stroke-width="1"/>
<path d="M670.2 805.8 L670.2 800.7 Q670.2 796.7 673.7 796.7 L696.8 796.7 Q700.3 796.7 700.3 800.7 L700.3 805.8Z" fill="#999999"/>
<path d="M560.8 866.7 L725.5 866.7 L721.6 877.1 L695.6 883.6 L591.9 883.6 L564.6 877.1Z" fill="#383838"/>
<circle cx="713.3" cy="842.1" r="1.4" fill="#f0f0f0"/><circle cx="643" cy="802.5" r="1" fill="#333"/><ellipse cx="571.3" cy="840.8" rx="3" ry="1.8" fill="none" stroke="#8a8a8a" stroke-width=".7"/></g></g>
</g>
<!--LOWER_END-->
<!--FOOTER_START-->
<g id="instr">
<text x="41.7" y="955.5" font-size="13.7" class="b" fill="#1e1e1e" textLength="181.6" lengthAdjust="spacingAndGlyphs">Инструкция по установке:</text>
<rect x="40.6" y="963.2" width="423.6" height="1.7" fill="#444"/>
<g font-size="9.3" fill="#444">
<text x="44.3" y="979" textLength="375.8" lengthAdjust="spacingAndGlyphs">1. Установить гайки закладные над отверстиями (А), через отверстия (В) под</text>
<text x="40.7" y="990.7" textLength="247.8" lengthAdjust="spacingAndGlyphs">заглушкой и вкрутить болт М10х25 на 2-3 оборота.</text>
<text x="44.3" y="1002.4" textLength="422" lengthAdjust="spacingAndGlyphs">2. Установить гайку закладную в отверстия (Б) и вкрутить болт М10х25 на 2-3 оборота.</text>
<text x="44.3" y="1014.1" textLength="397.1" lengthAdjust="spacingAndGlyphs">3. Завести балку на установленные болты М10х25 и произвести подтяжку болтов.</text>
<text x="44.3" y="1025.8" textLength="413" lengthAdjust="spacingAndGlyphs">4. Установить защиту: Переднюю часть защиты РК завести на установленные болты</text>
<text x="40.7" y="1037.5" textLength="283.9" lengthAdjust="spacingAndGlyphs">М10х25. заднюю часть закрепить к балке болтами М10х25.</text>
<text x="44.3" y="1049.2" textLength="210.9" lengthAdjust="spacingAndGlyphs">5. Затянуть болты с необходимым усилием.</text>
</g>
</g>
<g id="parts">
<rect x="490.5" y="964.5" width="317.3" height="22.4" fill="#e8e8e8"/>
<rect x="490.5" y="963.2" width="317.3" height="1.7" fill="#444"/>
<path d="M633.2 942.5V1100" stroke="#8a8a8a" stroke-width="1.6" stroke-dasharray="3 2.2" fill="none"/>
<path d="M694.7 942.5V1100" stroke="#8a8a8a" stroke-width="1.1" stroke-dasharray="3 2.2" fill="none"/>
<text x="507.9" y="955.5" font-size="13.7" class="b" fill="#1e1e1e" textLength="117.5" lengthAdjust="spacingAndGlyphs">Состав изделия:</text>
<g font-size="14.3" fill="#3a3a3a">
<text x="526" y="980.1" textLength="99.4" lengthAdjust="spacingAndGlyphs">Наименование</text>
<text x="641.5" y="980.1" textLength="44.2" lengthAdjust="spacingAndGlyphs">Кол-во</text>
<text x="701.2" y="980.1" textLength="107" lengthAdjust="spacingAndGlyphs">Момент затяжки</text>
</g>
<g font-size="9.9" fill="#444">
<text x="560.5" y="998.5" textLength="68.0" lengthAdjust="spacingAndGlyphs">Болт М10х25</text>
<text x="568.3" y="1011.3" textLength="60.2" lengthAdjust="spacingAndGlyphs">Шайба М10</text>
<text x="516.4" y="1024.1" textLength="112.1" lengthAdjust="spacingAndGlyphs">Гайка закладная М10</text>
<text x="507.3" y="1036.9" textLength="122.2" lengthAdjust="spacingAndGlyphs">Гайка закладная М10 с</text>
<text x="567.5" y="1049.7" textLength="61.0" lengthAdjust="spacingAndGlyphs">проволокой</text>
<text x="588.3" y="1062.5" textLength="40.2" lengthAdjust="spacingAndGlyphs">Защита</text>
<text x="596.0" y="1075.3" textLength="32.5" lengthAdjust="spacingAndGlyphs">Балка</text>
</g>
<g font-size="9.9" fill="#444">
<text x="654.1" y="996.6" textLength="24.4" lengthAdjust="spacingAndGlyphs">6 шт.</text>
<text x="654.1" y="1009.4" textLength="24.4" lengthAdjust="spacingAndGlyphs">6 шт.</text>
<text x="654.1" y="1022.1" textLength="24.4" lengthAdjust="spacingAndGlyphs">2 шт.</text>
<text x="654.1" y="1048.1" textLength="24.4" lengthAdjust="spacingAndGlyphs">2 шт.</text>
<text x="654.1" y="1060.6" textLength="24.4" lengthAdjust="spacingAndGlyphs">1 шт.</text>
<text x="654.1" y="1073.3" textLength="24.4" lengthAdjust="spacingAndGlyphs">1 шт.</text>
<text x="719.3" y="998.5" textLength="41.5" lengthAdjust="spacingAndGlyphs">47.0 Нм</text>
</g>
</g>
<g id="foot">
<rect x="40.8" y="1116" width="767.2" height="2.1" fill="#444"/>
<text x="42.8" y="1139.5" font-size="14" fill="#262626" textLength="438" lengthAdjust="spacingAndGlyphs">Производитель вправе вносить изменения в конструкцию защиты.</text>
<text x="42.8" y="1156.5" font-size="14" fill="#262626" textLength="159" lengthAdjust="spacingAndGlyphs">Техническая поддержка:</text>
<text x="214.7" y="1156.5" font-size="14" fill="#262626" textLength="41.5" lengthAdjust="spacingAndGlyphs">e-mail:</text>
<text x="262.9" y="1156.5" font-size="14" class="b" fill="#14149a" textLength="142.7" lengthAdjust="spacingAndGlyphs">supp@rivalauto.com</text>
<rect x="262.9" y="1157.8" width="148.9" height="1.1" fill="#14149a"/>
<text x="407.6" y="1156.5" font-size="14" fill="#14149a">;</text>
<text x="419.5" y="1156.5" font-size="14" fill="#262626" textLength="57" lengthAdjust="spacingAndGlyphs">Телефон</text>
<text x="477.4" y="1156.5" font-size="14" class="b" fill="#262626">:</text>
<text x="485.6" y="1156.5" font-size="14" class="b" fill="#1e1e1e" textLength="121.9" lengthAdjust="spacingAndGlyphs">8-800-555-60-43</text>
</g>
<!--FOOTER_END-->
</svg>
</body>
</html>
